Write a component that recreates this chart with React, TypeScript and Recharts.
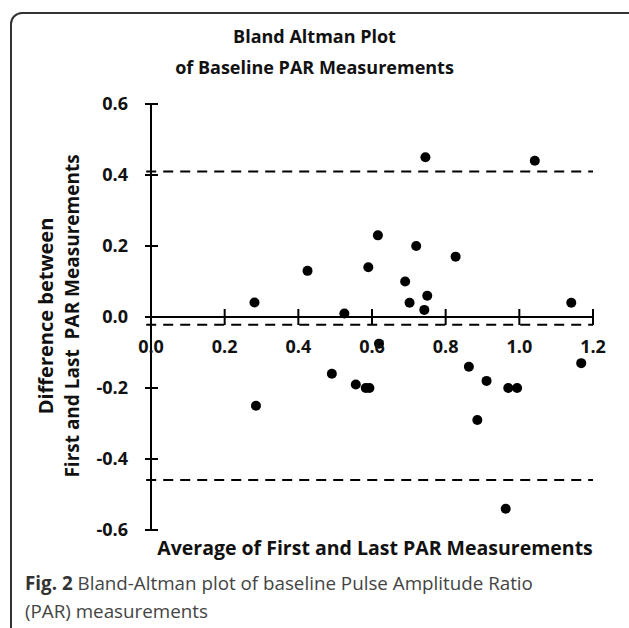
import { ReferenceLine, Scatter, ScatterChart, XAxis, YAxis } from "recharts";

// Bland-Altman: average of the two measurements vs their difference
const averages = [
  0.281, 0.425, 0.745, 1.042, 0.616, 0.72, 0.827, 0.59, 0.69, 0.75, 0.702, 0.742, 1.141, 0.525,
  0.619, 0.285, 0.491, 0.556, 0.583, 0.593, 0.863, 0.911, 0.886, 0.97, 0.994, 1.168, 0.963,
];
const differences = [
  0.041, 0.13, 0.45, 0.44, 0.23, 0.2, 0.17, 0.14, 0.1, 0.06, 0.04, 0.02, 0.04, 0.01, -0.075,
  -0.25, -0.16, -0.19, -0.2, -0.2, -0.14, -0.18, -0.29, -0.2, -0.2, -0.13, -0.54,
];
const xTicks = [0, 0.2, 0.4, 0.6, 0.8, 1.0, 1.2];
const yTicks = [-0.6, -0.4, -0.2, 0, 0.2, 0.4, 0.6];
const upperLimit = 0.41;
const meanDiff = -0.022;
const lowerLimit = -0.459;

const W = 629;
const H = 628;
const PLOT_TOP = 104;
const PLOT_H = 426;
const FONT = "'Open Sans', 'Noto Sans', sans-serif";

const points = averages.map((x, i) => ({ x, y: differences[i] }));

function XTick(props: any) {
  const { x, y, payload } = props;
  const zy = y - PLOT_H / 2; // axis crosses at y = 0
  return (
    <g>
      <line x1={x} x2={x} y1={zy - 8} y2={zy + 8} stroke="#000" strokeWidth={2} />
      <text
        x={x}
        y={zy + 36}
        textAnchor="middle"
        fontFamily={FONT}
        fontWeight={700}
        fontSize={18}
        fill="#111"
      >
        {Number(payload.value).toFixed(1)}
      </text>
    </g>
  );
}

function YTick(props: any) {
  const { x, y, payload } = props;
  return (
    <g>
      <line x1={x - 6} x2={x + 7} y1={y} y2={y} stroke="#000" strokeWidth={2} />
      <text
        x={x - 23}
        y={y + 6}
        textAnchor="end"
        fontFamily={FONT}
        fontWeight={700}
        fontSize={18}
        fill="#111"
      >
        {Number(payload.value).toFixed(1)}
      </text>
    </g>
  );
}

const dot = (p: any) => <circle cx={p.cx} cy={p.cy} r={5} fill="#000" />;

export default function App() {
  const dashed = [upperLimit, meanDiff, lowerLimit];
  return (
    <div
      style={{
        position: "absolute",
        left: 0,
        top: 0,
        width: W,
        height: H,
        overflow: "hidden",
        background: "#fff",
        fontFamily: FONT,
      }}
    >
      <div
        style={{
          position: "absolute",
          left: 10,
          top: 12,
          width: 640,
          height: 640,
          border: "2px solid #333",
          borderRadius: 12,
        }}
      />
      <div style={{ position: "absolute", left: 0, top: 0 }}>
        <ScatterChart width={W} height={H} margin={{ top: PLOT_TOP, right: 36, left: 91, bottom: 68 }}>
          <XAxis
            type="number"
            dataKey="x"
            domain={[0, 1.2]}
            ticks={xTicks}
            height={30}
            axisLine={false}
            tickLine={false}
            tickSize={0}
            tickMargin={0}
            tick={<XTick />}
          />
          <YAxis
            type="number"
            dataKey="y"
            domain={[-0.6, 0.6]}
            ticks={yTicks}
            width={60}
            axisLine={{ stroke: "#000", strokeWidth: 2 }}
            tickLine={false}
            tickSize={0}
            tickMargin={0}
            tick={<YTick />}
          />
          <ReferenceLine
            segment={[
              { x: -0.016, y: 0 },
              { x: 1.2, y: 0 },
            ]}
            ifOverflow="visible"
            stroke="#000"
            strokeWidth={2}
          />
          {dashed.map((v) => (
            <ReferenceLine
              key={v}
              segment={[
                { x: -0.013, y: v },
                { x: 1.2, y: v },
              ]}
              ifOverflow="visible"
              stroke="#000"
              strokeWidth={2}
              strokeDasharray="10 7"
            />
          ))}
          <Scatter data={points} shape={dot} isAnimationActive={false} />
        </ScatterChart>
      </div>

      <div
        style={{
          position: "absolute",
          left: 0,
          width: 629,
          top: 21,
          textAlign: "center",
          fontWeight: 700,
          fontSize: 18,
          lineHeight: "31px",
          color: "#111",
        }}
      >
        <div>Bland Altman Plot</div>
        <div>of Baseline PAR Measurements</div>
      </div>

      {["Difference between", "First and Last  PAR Measurements"].map((t, i) => (
        <div
          key={t}
          style={{
            position: "absolute",
            left: i === 0 ? 45 : 72,
            top: 316,
            transform: "translate(-50%, -50%) rotate(-90deg)",
            whiteSpace: "pre",
            fontWeight: 700,
            fontSize: i === 0 ? 20 : 19,
            color: "#111",
          }}
        >
          {t}
        </div>
      ))}

      <div
        style={{
          position: "absolute",
          left: 375,
          top: 547,
          transform: "translate(-50%, -50%)",
          whiteSpace: "nowrap",
          fontWeight: 700,
          fontSize: 19.5,
          color: "#111",
        }}
      >
        Average of First and Last PAR Measurements
      </div>

      <div
        style={{
          position: "absolute",
          left: 25,
          top: 569,
          fontSize: 18.8,
          lineHeight: "28px",
          color: "#444",
        }}
      >
        <span style={{ fontWeight: 700, color: "#333" }}>Fig. 2</span> Bland-Altman plot of baseline
        Pulse Amplitude Ratio
        <br />
        (PAR) measurements
      </div>
    </div>
  );
}
